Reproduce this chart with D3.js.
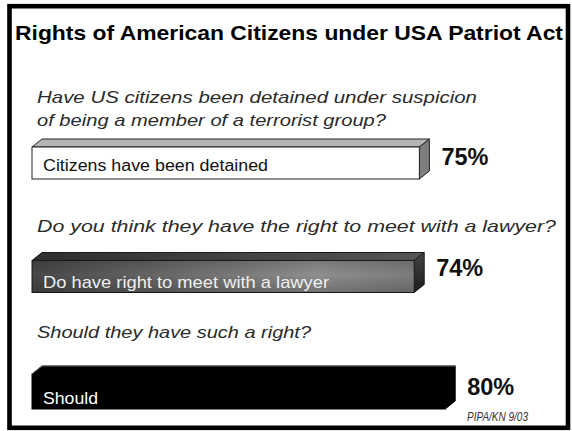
<!DOCTYPE html>
<html>
<head>
<meta charset="utf-8">
<script src="https://cdn.jsdelivr.net/npm/d3@7"></script>
<style>
  html, body { margin: 0; padding: 0; background: #fff; }
  svg { display: block; }
</style>
</head>
<body>
<svg id="chart" width="572" height="431"></svg>
<script>
// ---- data ----
const title = "Rights of American Citizens under USA Patriot Act";
const categories = ["Citizens have been detained", "Do have right to meet with a lawyer", "Should"];
const values = [75, 74, 80];
const valueLabels = ["75%", "74%", "80%"];
const questions = [
  ["Have US citizens been detained under suspicion", "of being a member of a terrorist group?"],
  ["Do you think they have the right to meet with a lawyer?"],
  ["Should they have such a right?"]
];
const source = "PIPA/KN 9/03";

// ---- styles / layout (not data) ----
const rowStyle = [
  { kind: "white", labelFill: "#111", labelSize: 16, labelLen: 225, labelDy: -8, valueDy: 18, qDy: -21, qLens: [440, 349], extraH: 0 },
  { kind: "grey",  labelFill: "#f0f0f0", labelSize: 17, labelLen: 286, labelDy: -5, valueDy: 15.5, qDy: -28.5, qLens: [519], extraH: 0 },
  { kind: "black", labelFill: "#ffffff", labelSize: 17, labelLen: 55, labelDy: -5, valueDy: 21, qDy: -36, qLens: [274], extraH: 3 }
];
const depthX = 10, depthY = 8;

const svg = d3.select("#chart");
const defs = svg.append("defs");

const g1 = defs.append("linearGradient").attr("id", "greyFront").attr("x1", "0").attr("x2", "1").attr("y1", "0").attr("y2", "0");
g1.append("stop").attr("offset", "0").attr("stop-color", "#474747");
g1.append("stop").attr("offset", "0.75").attr("stop-color", "#8e8e8e");
g1.append("stop").attr("offset", "1").attr("stop-color", "#7c7c7c");
const g2 = defs.append("linearGradient").attr("id", "greyTop").attr("x1", "0").attr("x2", "1").attr("y1", "0").attr("y2", "0");
g2.append("stop").attr("offset", "0").attr("stop-color", "#2e2e2e");
g2.append("stop").attr("offset", "1").attr("stop-color", "#555");
const g3 = defs.append("linearGradient").attr("id", "greySide").attr("x1", "0").attr("x2", "0").attr("y1", "0").attr("y2", "1");
g3.append("stop").attr("offset", "0").attr("stop-color", "#444");
g3.append("stop").attr("offset", "1").attr("stop-color", "#1c1c1c");
const g4 = defs.append("linearGradient").attr("id", "greyShade").attr("x1", "0").attr("x2", "0").attr("y1", "0").attr("y2", "1");
g4.append("stop").attr("offset", "0").attr("stop-color", "#000").attr("stop-opacity", 0.15);
g4.append("stop").attr("offset", "0.45").attr("stop-color", "#000").attr("stop-opacity", 0);
g4.append("stop").attr("offset", "1").attr("stop-color", "#000").attr("stop-opacity", 0.2);

// frame
svg.append("rect")
  .attr("x", 9.5).attr("y", 6.2).attr("width", 558.5).attr("height", 421.6)
  .attr("fill", "#fff").attr("stroke", "#000").attr("stroke-width", 4.6);

// title
svg.append("text")
  .attr("x", 15).attr("y", 40)
  .attr("font-family", "Liberation Sans, Arial, sans-serif")
  .attr("font-weight", "bold").attr("font-size", 21)
  .attr("textLength", 548).attr("lengthAdjust", "spacingAndGlyphs")
  .attr("fill", "#000")
  .text(title);

// scales
const x = d3.scaleLinear().domain([0, 100]).range([32, 548.5]);
const y = d3.scaleBand().domain(categories).range([147, 406]).paddingInner(0.718).paddingOuter(0);
const bw = y.bandwidth();

const rows = categories.map((c, i) => ({ cat: c, value: values[i], vlabel: valueLabels[i], q: questions[i], st: rowStyle[i] }));

const row = svg.selectAll("g.row").data(rows).join("g").attr("class", "row");

// questions
row.each(function (d) {
  const g = d3.select(this);
  const y0 = y(d.cat);
  const n = d.q.length;
  d.q.forEach((line, k) => {
    g.append("text")
      .attr("x", 37)
      .attr("y", y0 + d.st.qDy - (n - 1 - k) * 23)
      .attr("font-family", "Liberation Sans, Arial, sans-serif")
      .attr("font-style", "italic").attr("font-size", 17)
      .attr("textLength", d.st.qLens[k]).attr("lengthAdjust", "spacingAndGlyphs")
      .attr("fill", "#2a2a2a")
      .text(line);
  });
});

// bars
row.each(function (d) {
  const g = d3.select(this);
  const x0 = x(0), x1 = x(d.value);
  const y0 = y(d.cat), y1 = y0 + bw + d.st.extraH;
  const top = [[x0, y0], [x0 + depthX, y0 - depthY], [x1 + depthX, y0 - depthY], [x1, y0]];
  const side = [[x1, y0], [x1 + depthX, y0 - depthY], [x1 + depthX, y1 - depthY], [x1, y1]];
  const line = d3.line();
  let fFront, fTop, fSide, stroke;
  if (d.st.kind === "white") { fFront = "#fff"; fTop = "#b4b4b4"; fSide = "#7e7e7e"; stroke = "#222"; }
  else if (d.st.kind === "grey") { fFront = "url(#greyFront)"; fTop = "url(#greyTop)"; fSide = "url(#greySide)"; stroke = "#1a1a1a"; }
  else { fFront = "#000"; fTop = "#000"; fSide = "#000"; stroke = "#000"; }
  g.append("path").attr("d", line(top) + "Z").attr("fill", fTop).attr("stroke", stroke).attr("stroke-width", 1).attr("stroke-linejoin", "round");
  g.append("path").attr("d", line(side) + "Z").attr("fill", fSide).attr("stroke", stroke).attr("stroke-width", 1).attr("stroke-linejoin", "round");
  g.append("rect").attr("x", x0).attr("y", y0).attr("width", x1 - x0).attr("height", y1 - y0)
    .attr("fill", fFront).attr("stroke", stroke).attr("stroke-width", 1);
  if (d.st.kind === "grey") {
    g.append("rect").attr("x", x0).attr("y", y0).attr("width", x1 - x0).attr("height", y1 - y0)
      .attr("fill", "url(#greyShade)");
  }
  if (d.st.kind === "black") {
    g.append("path").attr("d", line([[x0, y0], [x0 + depthX, y0 - depthY], [x1 + depthX, y0 - depthY]]))
      .attr("fill", "none").attr("stroke", "#777").attr("stroke-width", 0.8);
  }
  // inner label
  g.append("text")
    .attr("x", x0 + 11).attr("y", y1 + d.st.labelDy)
    .attr("font-family", "Liberation Sans, Arial, sans-serif")
    .attr("font-size", d.st.labelSize)
    .attr("textLength", d.st.labelLen).attr("lengthAdjust", "spacingAndGlyphs")
    .attr("fill", d.st.labelFill)
    .text(d.cat);
  // value label
  g.append("text")
    .attr("x", x1 + 22).attr("y", y0 + d.st.valueDy)
    .attr("font-family", "Liberation Sans, Arial, sans-serif")
    .attr("font-weight", "bold").attr("font-size", 23.5)
    .attr("fill", "#111")
    .text(d.vlabel);
});

// source
svg.append("text")
  .attr("x", 467).attr("y", 421)
  .attr("font-family", "Liberation Sans, Arial, sans-serif")
  .attr("font-style", "italic").attr("font-size", 12)
  .attr("textLength", 61).attr("lengthAdjust", "spacingAndGlyphs")
  .attr("fill", "#333")
  .text(source);
</script>
</body>
</html>
